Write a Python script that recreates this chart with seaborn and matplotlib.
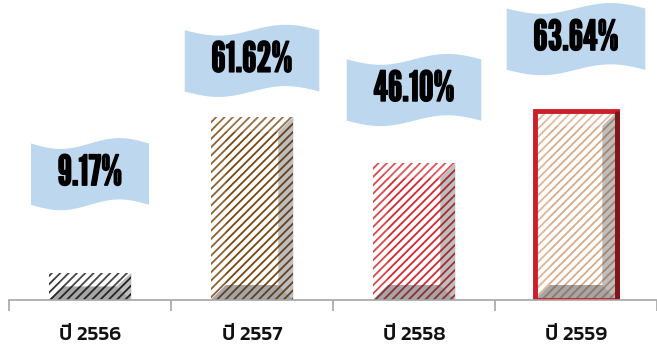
import numpy as np
import pandas as pd
import matplotlib
matplotlib.use("Agg")
import matplotlib.pyplot as plt
import matplotlib.patheffects as pe
from matplotlib.path import Path
from matplotlib.patches import Polygon, Rectangle
import seaborn as sns

# ---------------- data ----------------
categories = ["ปี 2556", "ปี 2557", "ปี 2558", "ปี 2559"]
values = [9.17, 61.62, 46.10, 63.64]
value_labels = ["9.17%", "61.62%", "46.10%", "63.64%"]

# ---------------- style ----------------
stripe_colors = ["#141414", "#7a4710", "#d7262e", "#d9ab8a"]
label_offsets = [33.2, 18.9, 24.6, 24.2]   # banner centre above bar top (data units)
banner_color = "#bdd7ee"

sns.set_theme(style="white")
plt.rcParams["hatch.linewidth"] = 1.3

fig = plt.figure(figsize=(6.57, 3.46), dpi=100)
ax = fig.add_axes([9 / 657, 46 / 346, 648 / 657, 297 / 346])

df = pd.DataFrame({"year": categories, "value": values})
sns.barplot(data=df, x="year", y="value", hue="year", palette=stripe_colors,
            legend=False, width=0.51, saturation=1, ax=ax)
ax.set_xlim(-0.5, 3.5)
ax.set_ylim(0, 100)

sx = ax.bbox.width / 4.0      # pixels per x unit
sy = ax.bbox.height / 100.0   # pixels per y unit

patches = sorted(ax.patches, key=lambda p: p.get_x())
for i, p in enumerate(patches):
    col = stripe_colors[i]
    p.set_facecolor("white")
    p.set_edgecolor(col)
    p.set_linewidth(0)
    p.set_hatch("////")
    if hasattr(p, "set_hatch_linewidth"):
        p.set_hatch_linewidth(1.3)
    x0, y0 = p.get_x(), p.get_y()
    w, h = p.get_width(), p.get_height()
    x1, y1 = x0 + w, y0 + h
    dx = 15 / sx
    dy = min(15 / sy, 0.5 * h)
    bevels = [
        ([(x0, y0), (x1, y0), (x1 - dx, y0 + dy), (x0 + dx, y0 + dy)], "#3a3a3a", 0.45),
        ([(x1, y0), (x1, y1), (x1 - dx, y1 - dy), (x1 - dx, y0 + dy)], "#3a3a3a", 0.33),
        ([(x0, y1), (x1, y1), (x1 - dx, y1 - dy), (x0 + dx, y1 - dy)], "white", 0.22),
        ([(x0, y0), (x0, y1), (x0 + dx, y1 - dy), (x0 + dx, y0 + dy)], "white", 0.15),
    ]
    for verts, c, a in bevels:
        ax.add_patch(Polygon(verts, closed=True, facecolor=c, edgecolor="none",
                             alpha=a, zorder=p.get_zorder() + 0.1))
    if i == 3:
        ax.add_patch(Rectangle((x0, y0), w, h, fill=False, edgecolor="#cc1f2a",
                               linewidth=3.5, zorder=p.get_zorder() + 0.2))
        ax.plot([x1, x1], [y0, y1], color="#7d151b", linewidth=3.5,
                solid_capstyle="butt", zorder=p.get_zorder() + 0.3)


def wave_box(x0, y0, width, height, mutation_size):
    padx = 0.64 * mutation_size
    pady = 0.28 * mutation_size
    amp = 0.13 * mutation_size
    left, right = x0 - padx, x0 + width + padx
    bot, top = y0 - pady, y0 + height + pady
    t = np.linspace(0, 1, 49)
    xs = left + t * (right - left)
    wave = amp * np.sin(2 * np.pi * t)
    bottom_edge = np.column_stack([xs, bot - wave])
    top_edge = np.column_stack([xs[::-1], top - wave[::-1]])
    verts = np.vstack([bottom_edge, top_edge, bottom_edge[:1]])
    codes = [Path.MOVETO] + [Path.LINETO] * (len(verts) - 2) + [Path.CLOSEPOLY]
    return Path(verts, codes)


for i, p in enumerate(patches):
    xc = p.get_x() + p.get_width() / 2
    ax.text(xc, values[i] + label_offsets[i], value_labels[i],
            ha="center", va="center", fontsize=30,
            family=["League Gothic", "DejaVu Sans"], color="black",
            path_effects=[pe.withStroke(linewidth=1.0, foreground="black")],
            bbox=dict(boxstyle=wave_box, facecolor=banner_color, edgecolor="none"),
            zorder=5)

# axes cosmetics
ax.set_xlabel("")
ax.set_ylabel("")
ax.set_yticks([])
for s in ("left", "top", "right"):
    ax.spines[s].set_visible(False)
ax.spines["bottom"].set_color("#a6a6a6")
ax.spines["bottom"].set_linewidth(1.2)
ax.set_xticks(range(len(categories)))
ax.set_xticklabels(categories)
ax.set_xticks([-0.5, 0.5, 1.5, 2.5, 3.5], minor=True)
ax.tick_params(axis="x", which="major", length=0, pad=19, labelsize=15,
               labelcolor="#111111")
ax.tick_params(axis="x", which="minor", bottom=True, length=8, width=1.2,
               color="#a6a6a6", direction="out")
for lab in ax.get_xticklabels():
    lab.set_fontfamily(["Kanit", "DejaVu Sans"])
    lab.set_fontweight("medium")

fig.savefig("out.png", dpi=100)
